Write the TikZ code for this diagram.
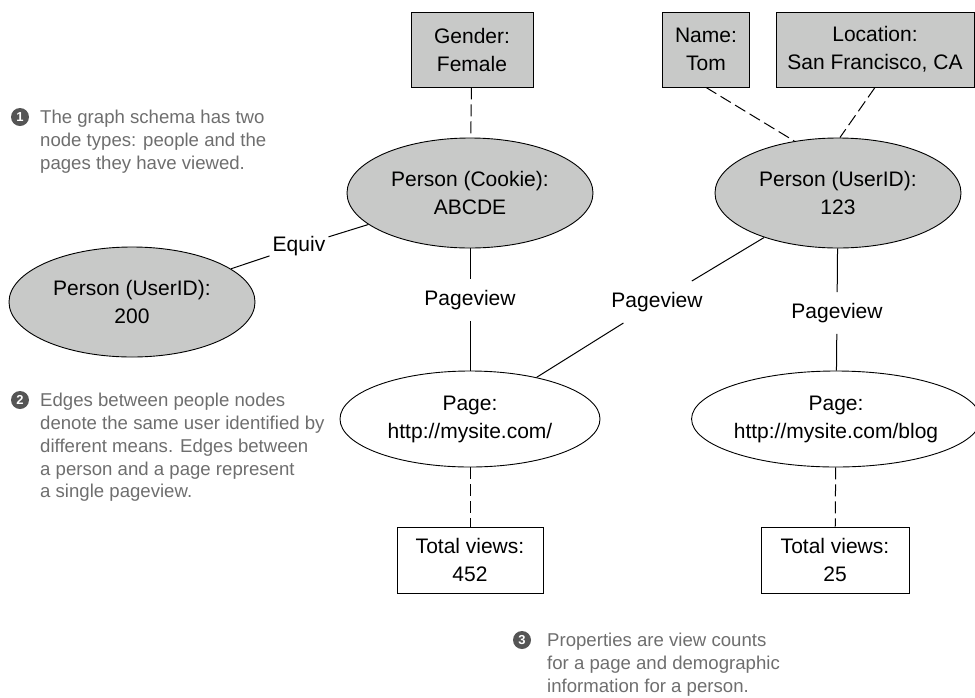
\documentclass[tikz,border=0pt]{standalone}
\usepackage{fontspec}
\setmainfont{Liberation Sans}
\usetikzlibrary{shapes.geometric}

\definecolor{nodegray}{HTML}{C8C9C8}
\definecolor{notegray}{HTML}{6E6E6E}
\definecolor{badgegray}{HTML}{555555}

\begin{document}
\begin{tikzpicture}[x=1pt,y=-1pt,
  every node/.style={font=\fontsize{21}{28}\selectfont, align=center},
  prop/.style={draw, line width=0.9pt, minimum height=75, inner sep=0},
  person/.style={ellipse, draw, line width=0.9pt, fill=nodegray, minimum width=246, minimum height=110, inner sep=0},
  page/.style={ellipse, draw, line width=0.9pt, fill=white, minimum height=96, inner sep=0},
  edge/.style={line width=1pt},
  propedge/.style={line width=1pt, dash pattern=on 12pt off 5pt},
  elabel/.style={inner xsep=3, inner ysep=11},
  note/.style={anchor=north west, align=left, text=notegray, font=\fontsize{18.6}{22.8}\selectfont, inner sep=0},
  badge/.style={circle, fill=badgegray, text=white, inner sep=0, minimum size=18, font=\fontsize{13}{13}\bfseries\selectfont}
]
\useasboundingbox (0,0) rectangle (975,697);

% property boxes of the people
\node[prop, fill=nodegray, minimum width=122] (gender) at (472,49.5) {Gender:\\Female};
\node[prop, fill=nodegray, minimum width=87] (name) at (706,49.5) {Name:\\Tom};
\node[prop, fill=nodegray, minimum width=198] (loc) at (875,49.5) {Location:\\San Francisco, CA};

% people nodes
\node[person] (cookie) at (470,193) {Person (Cookie):\\ABCDE};
\node[person] (u123) at (838,193) {Person (UserID):\\123};
\node[person] (u200) at (132,302) {Person (UserID):\\200};

% page nodes
\node[page, minimum width=260] (page1) at (470,419) {Page:\\http://mysite.com/};
\node[page, minimum width=284] (page2) at (836,419) {Page:\\http://mysite.com/blog};

% page properties
\node[prop, minimum width=146, minimum height=66] (tv1) at (470,560) {Total views:\\452};
\node[prop, minimum width=148, minimum height=66] (tv2) at (835,560) {Total views:\\25};

% edge labels
\node[elabel] (eq) at (299,246) {Equiv};
\node[elabel] (pv1) at (470,300) {Pageview};
\node[elabel] (pv2) at (657,302) {Pageview};
\node[elabel] (pv3) at (837,313) {Pageview};

% edges
\draw[edge] (u200) -- (eq) -- (cookie);
\draw[edge] (cookie) -- (pv1) -- (page1);
\draw[edge] (page1) -- (pv2) -- (u123);
\draw[edge] (u123) -- (pv3) -- (page2);

% property links
\draw[propedge] (gender) -- (cookie);
\draw[propedge] (name.south) -- (u123.130);
\draw[propedge] (loc.south) -- (u123.88);
\draw[propedge] (page1) -- (tv1);
\draw[propedge] (page2) -- (tv2);

% annotations
\node[badge] (b1) at (20,117) {1};
\node[note] (n1) at (40,110) {The graph schema has two\\node types: people and the\\pages they have viewed.};
\node[badge] (b2) at (20,400) {2};
\node[note] (n2) at (40,393) {Edges between people nodes\\denote the same user identified by\\different means. Edges between\\a person and a page represent\\a single pageview.};
\node[badge] (b3) at (522,640) {3};
\node[note] (n3) at (547,633) {Properties are view counts\\for a page and demographic\\information for a person.};
\end{tikzpicture}
\end{document}
